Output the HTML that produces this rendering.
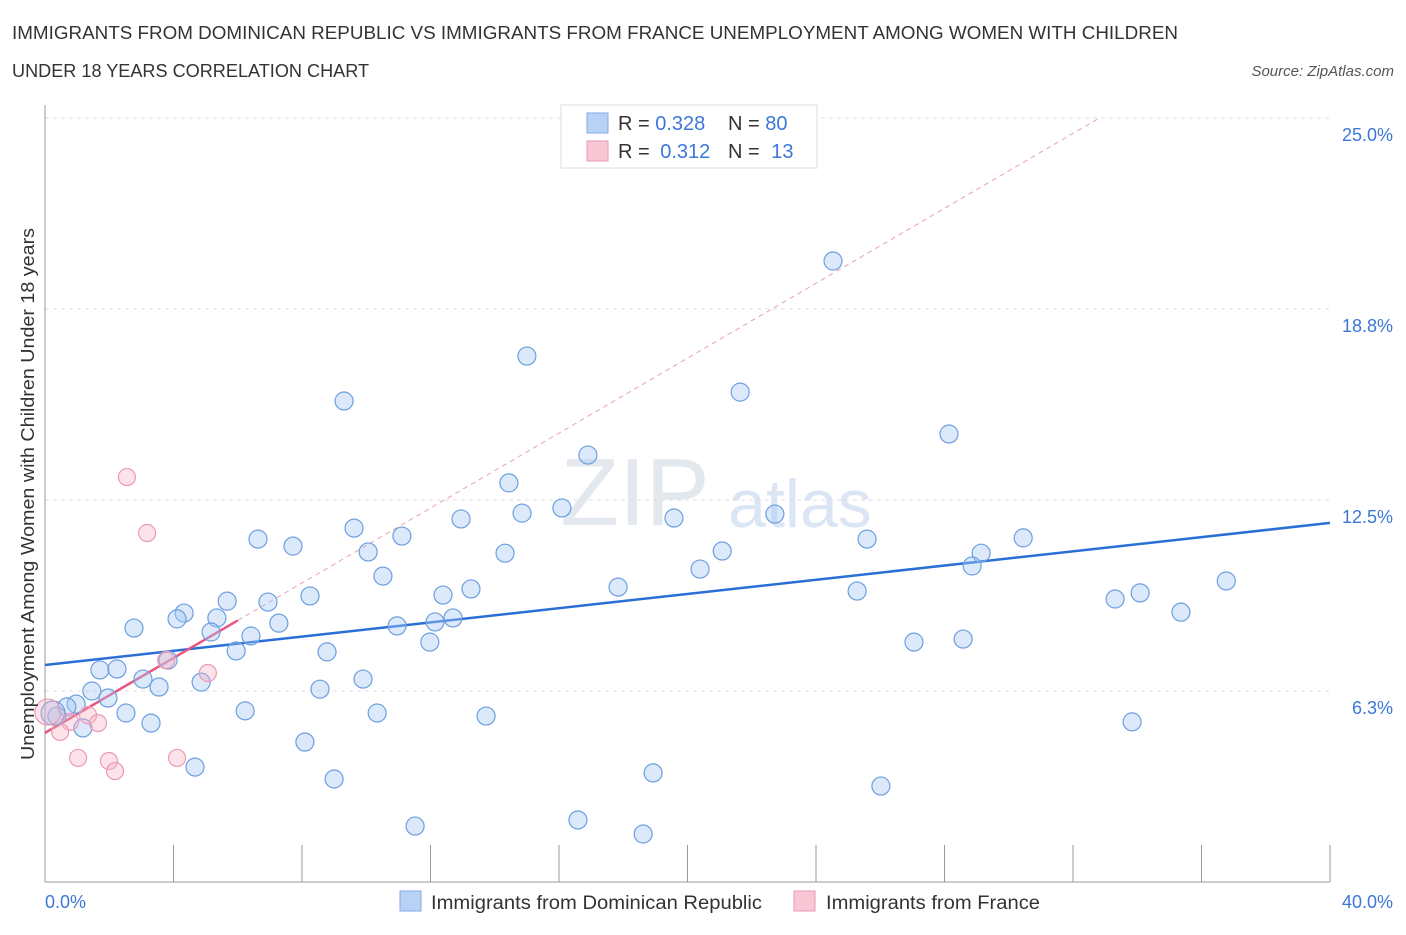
<!DOCTYPE html>
<html><head><meta charset="utf-8"><style>
body{margin:0;background:#fff;font-family:"Liberation Sans",sans-serif}
svg text{font-family:"Liberation Sans",sans-serif}
</style></head><body>
<svg id="chart" width="1406" height="930" xmlns="http://www.w3.org/2000/svg">
<text x="12" y="39" font-size="18" fill="#333" textLength="1166" lengthAdjust="spacingAndGlyphs">IMMIGRANTS FROM DOMINICAN REPUBLIC VS IMMIGRANTS FROM FRANCE UNEMPLOYMENT AMONG WOMEN WITH CHILDREN</text>
<text x="12" y="77" font-size="18" fill="#333" textLength="357" lengthAdjust="spacingAndGlyphs">UNDER 18 YEARS CORRELATION CHART</text>
<text x="1394" y="76" font-size="15" fill="#555" font-style="italic" text-anchor="end">Source: ZipAtlas.com</text>
<text x="635" y="525" font-size="96" fill="#e3e8ee" font-family="Liberation Serif" text-anchor="middle">ZIP</text>
<text x="800" y="527" font-size="68" fill="#dbe6f5" text-anchor="middle">atlas</text>
<g id="grid"></g><g id="axes"></g><g id="trend"></g><g id="pts"></g>
<text transform="translate(34,494) rotate(-90)" font-size="18" fill="#333" text-anchor="middle" textLength="532" lengthAdjust="spacingAndGlyphs">Unemployment Among Women with Children Under 18 years</text>
<text x="45" y="908" font-size="18" fill="#3b78d8">0.0%</text>
<text x="1393" y="908" font-size="18" fill="#3b78d8" text-anchor="end">40.0%</text>
<g>
<rect x="561" y="105" width="256" height="63" fill="#fff" stroke="#ddd"/>
<rect x="587" y="113" width="21" height="20" fill="#b8d2f5" stroke="#7fa9e6"/>
<rect x="587" y="141" width="21" height="20" fill="#f9c6d5" stroke="#e99ab2"/>
<text x="618" y="130" font-size="20" fill="#333">R = <tspan fill="#3b78d8">0.328</tspan></text>
<text x="728" y="130" font-size="20" fill="#333">N = <tspan fill="#3b78d8">80</tspan></text>
<text x="618" y="158" font-size="20" fill="#333">R = <tspan fill="#3b78d8" dx="5">0.312</tspan></text>
<text x="728" y="158" font-size="20" fill="#333">N = <tspan fill="#3b78d8" dx="6">13</tspan></text>
</g>
<g>
<rect x="400" y="891" width="21" height="20" fill="#b8d2f5" stroke="#7fa9e6"/>
<text x="431" y="909" font-size="19" fill="#333" textLength="331" lengthAdjust="spacingAndGlyphs">Immigrants from Dominican Republic</text>
<rect x="794" y="891" width="21" height="20" fill="#f9c6d5" stroke="#e99ab2"/>
<text x="826" y="909" font-size="19" fill="#333" textLength="214" lengthAdjust="spacingAndGlyphs">Immigrants from France</text>
</g>
</svg>
<script>
const yTicks=[6.25,12.5,18.75,25];
const yTickLabels=["6.3%","12.5%","18.8%","25.0%"];
const blueX=[24.53,15.00,9.31,21.64,28.14,16.90,14.44,16.09,14.85,22.72,19.58,12.95,9.62,6.63,11.11,30.45,25.59,7.72,10.06,14.32,21.08,29.14,28.86,20.39,10.52,36.77,17.84,13.26,12.39,25.28,8.25,34.09,33.31,5.67,6.94,4.33,35.36,5.35,4.11,12.70,7.28,12.14,10.96,2.77,5.17,6.41,11.98,27.05,28.58,5.95,8.78,3.83,1.71,2.24,3.05,9.90,4.86,3.55,1.46,8.56,1.96,0.97,0.68,2.52,6.23,10.34,13.73,33.84,0.37,3.30,1.18,8.09,4.67,18.93,9.00,26.02,11.52,16.59,18.62,0.25];
const blueY=[20.32,17.21,15.74,16.03,14.66,13.97,13.06,12.24,12.07,12.04,11.91,11.88,11.58,11.22,11.32,11.26,11.22,10.99,10.80,10.76,10.83,10.76,10.34,10.24,10.01,9.85,9.65,9.59,9.39,9.52,9.36,9.46,9.26,9.19,9.16,8.80,8.83,8.64,8.61,8.64,8.47,8.51,8.38,8.31,8.18,8.05,7.85,7.85,7.95,7.56,7.53,7.26,6.94,6.97,6.64,6.64,6.54,6.38,6.25,6.31,6.02,5.82,5.73,5.53,5.60,5.53,5.43,5.24,5.43,5.20,5.04,4.58,3.76,3.57,3.37,3.14,1.83,2.03,1.57,5.53];
const pinkX=[2.55,3.18,3.77,5.07,1.34,1.65,0.78,0.47,1.03,1.99,2.18,4.11,0.09];
const pinkY=[13.25,11.42,7.26,6.84,5.46,5.20,5.24,4.91,4.06,3.96,3.63,4.06,5.56];
const blueTrend=[7.10,11.75];
const pinkTrend=[4.88,0.613];
const NS="http://www.w3.org/2000/svg";
const sx=v=>45+v/40*1285, sy=v=>882-v/6.25*191;
function mk(p,tag,a){const e=document.createElementNS(NS,tag);for(const k in a)e.setAttribute(k,a[k]);document.getElementById(p).appendChild(e);return e;}
yTicks.forEach((t,i)=>{
 const g=mk('grid','line',{x1:45,x2:1330,y1:sy(t),y2:sy(t),stroke:'#ddd','stroke-dasharray':'4,4'});
 
 
 const l=mk('grid','text',{x:1393,y:sy(t)+23,'font-size':18,fill:'#3b78d8','text-anchor':'end'});
 l.textContent=yTickLabels[i];
 
 
});
const ax=mk('axes','line',{x1:45,x2:45,y1:105,y2:882,stroke:'#999'});


const bx=mk('axes','line',{x1:45,x2:1330,y1:882,y2:882,stroke:'#999'});


for(let i=0;i<=10;i++){const t=mk('axes','line',{x1:sx(i*4),x2:sx(i*4),y1:845,y2:882,stroke:'#999'});
 
 }
const bt=mk('trend','line',{x1:sx(0),y1:sy(blueTrend[0]),x2:sx(40),y2:sy(blueTrend[1]),stroke:'#2a6fd6','stroke-width':2.5});


const xe=(25-pinkTrend[0])/pinkTrend[1];
const pd=mk('trend','line',{x1:sx(6),y1:sy(pinkTrend[0]+6*pinkTrend[1]),x2:sx(xe),y2:sy(25),stroke:'#e8a0b4','stroke-width':1,'stroke-dasharray':'5,4'});


const pt=mk('trend','line',{x1:sx(0),y1:sy(pinkTrend[0]),x2:sx(6),y2:sy(pinkTrend[0]+6*pinkTrend[1]),stroke:'#e8567f','stroke-width':2.5});


blueX.forEach((x,i)=>{const c=mk('pts','circle',{cx:sx(x),cy:sy(blueY[i]),r:i==blueX.length-1?12:9,fill:'rgba(165,200,242,0.4)',stroke:'#6c9fe0','stroke-width':1.2});
 
 });
pinkX.forEach((x,i)=>{const c=mk('pts','circle',{cx:sx(x),cy:sy(pinkY[i]),r:i==pinkX.length-1?13:8.5,fill:'rgba(245,175,195,0.35)',stroke:'#ec9ab2','stroke-width':1.2});
 
 });
</script>
</body></html>
